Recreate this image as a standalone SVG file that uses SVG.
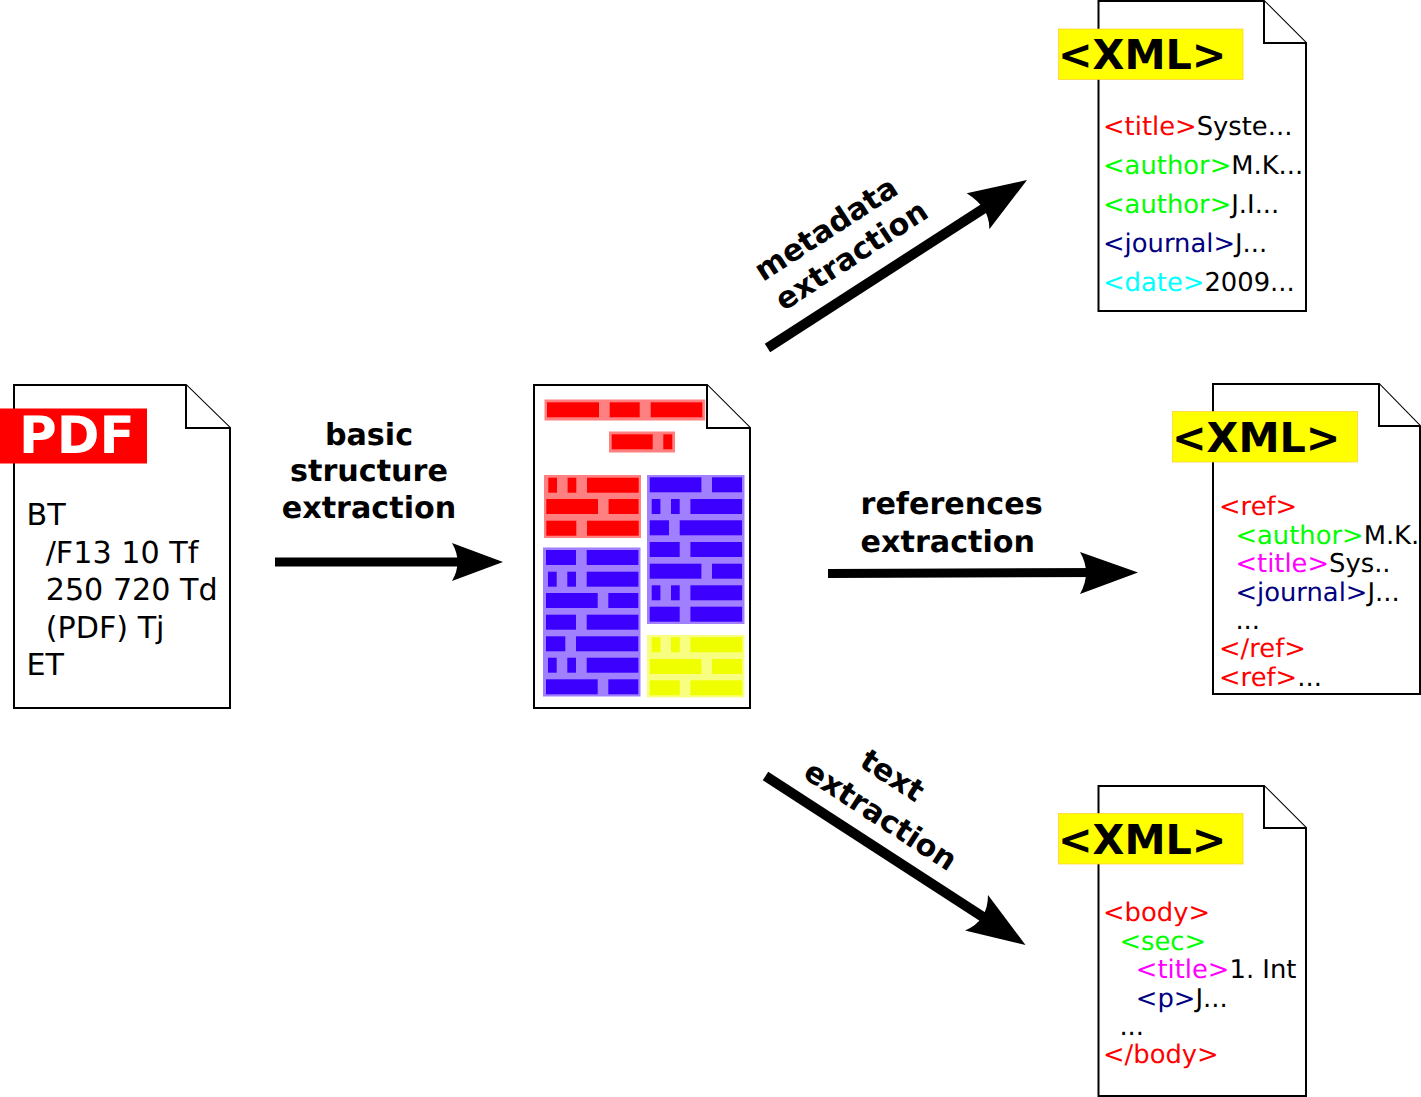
<svg xmlns="http://www.w3.org/2000/svg" width="1421" height="1097" viewBox="0 0 1421 1097">
<style>
text{font-family:"DejaVu Sans",sans-serif;white-space:pre;text-rendering:geometricPrecision}
.page{fill:#fff;stroke:#000;stroke-width:2}
.body{font-size:30.2px;fill:#000}
.x{font-size:25.8px;fill:#000}
.xb{font-size:41.3px;font-weight:bold;fill:#000}
.lb{font-size:30.2px;font-weight:bold;fill:#000}
.r{fill:#f00}.g{fill:#0f0}.n{fill:#000080}.c{fill:#0ff}.m{fill:#f0f}
.hr{fill:#ff8080;stroke:#ff8080}
.hb{fill:#a080ff;stroke:#a080ff}
.hy{fill:#f8ff80;stroke:#f8ff80}
.ir{fill:#f00}.ib{fill:#3c00ff}.iy{fill:#f0ff00}
.tag{fill:#ff0;stroke:#fc3;stroke-width:.7}
.shaft{fill:none;stroke:#000;stroke-width:9}
.shaft2{fill:none;stroke:#000;stroke-width:10}
</style>
<defs>
<g id="rowA"><rect x="0" width="51.7" height="15"/><rect x="62.3" width="30" height="15"/></g>
<g id="rowB"><rect x="2" width="8.7" height="15"/><rect x="21.3" width="8.7" height="15"/><rect x="40.7" width="51.7" height="15"/></g>
<g id="rowC"><rect x="0" width="30" height="15"/><rect x="40.7" width="51.7" height="15"/></g>
<g id="rowD"><rect x="0" width="19.3" height="15"/><rect x="30" width="62.3" height="15"/></g>
</defs>
<g id="connectors">
<path class="shaft" d="M275 562H475"/>
<path d="M452 543L503 562L452 581Q463 562 452 543Z"/>
<path class="shaft" d="M828 573.5L1105 572.5"/>
<path d="M1080 552L1138 572.5L1080 594Q1092 572.5 1080 552Z"/>
<path class="shaft2" d="M767.500 348L1000 198"/>
<path d="M966.700 193.300L1027 180L989.300 229.300Q990 208 966.700 193.300Z"/>
<path class="shaft2" d="M765.500 776L1000 928"/>
<path d="M988 895L1025.500 945L965 930.500Q988 921 988 895Z"/>
</g>
<g id="pdf-source">
<path class="page" d="M14 385H186L230 428V708H14Z"/><path class="page" d="M186 385V428H230" fill="none"/>
<rect x="0" y="408.500" width="147" height="55" fill="#f00"/>
<text x="19" y="453" font-size="51.500" font-weight="bold" fill="#fff">PDF</text>
<text class="body" x="26.500" y="525">BT</text>
<text class="body" x="26.500" y="562.500">  /F13 10 Tf</text>
<text class="body" x="26.500" y="600">  250 720 Td</text>
<text class="body" x="26.500" y="637.500">  (PDF) Tj</text>
<text class="body" x="26.500" y="675">ET</text>
</g>
<g id="label-basic" text-anchor="middle">
<text class="lb" x="369" y="445">basic</text>
<text class="lb" x="369" y="481">structure</text>
<text class="lb" x="369" y="517.500">extraction</text>
</g>
<g id="structure-page">
<path class="page" d="M534 385H707L750 428V708H534Z"/><path class="page" d="M707 385V428H750" fill="none"/>
<rect class="hr" x="545" y="400" width="159.700" height="20"/>
<g class="ir"><rect x="547" y="402.300" width="52" height="15"/><rect x="609.700" y="402.300" width="30" height="15"/><rect x="650.700" y="402.300" width="51.600" height="15"/></g>
<rect class="hr" x="609.500" y="432" width="65" height="20"/>
<g class="ir"><rect x="611.700" y="434.300" width="41" height="15"/><rect x="663.300" y="434.300" width="9" height="15"/></g>
<rect class="hr" x="544.500" y="475.500" width="96" height="62"/>
<g class="ir">
<use href="#rowB" x="546.300" y="477.700"/>
<use href="#rowA" x="546.300" y="499"/>
<use href="#rowC" x="546.300" y="520.700"/>
</g>
<rect class="hb" x="647.500" y="475.500" width="96.500" height="148"/>
<g class="ib">
<use href="#rowA" x="649.700" y="477.300"/>
<use href="#rowB" x="649.700" y="499"/>
<use href="#rowD" x="649.700" y="520.300"/>
<use href="#rowC" x="649.700" y="542"/>
<use href="#rowA" x="649.700" y="563.700"/>
<use href="#rowB" x="649.700" y="585.300"/>
<use href="#rowC" x="649.700" y="606.700"/>
</g>
<rect class="hb" x="543.500" y="548" width="96.500" height="148"/>
<g class="ib">
<use href="#rowC" x="546" y="550"/>
<use href="#rowB" x="546" y="571.700"/>
<use href="#rowA" x="546" y="593"/>
<use href="#rowC" x="546" y="614.700"/>
<use href="#rowD" x="546" y="636.300"/>
<use href="#rowB" x="546" y="657.700"/>
<use href="#rowA" x="546" y="679.300"/>
</g>
<rect class="hy" x="647.500" y="635.500" width="96.500" height="61.500"/>
<g class="iy">
<use href="#rowB" x="649.700" y="637.300"/>
<use href="#rowA" x="649.700" y="659"/>
<use href="#rowC" x="649.700" y="680.300"/>
</g>
</g>
<g id="label-metadata" transform="translate(763 282) rotate(-33)">
<text class="lb" x="0" y="0">metadata</text>
<text class="lb" x="1.500" y="36">extraction</text>
</g>
<g id="label-references">
<text class="lb" x="860.500" y="514">references</text>
<text class="lb" x="860.500" y="552">extraction</text>
</g>
<g id="label-text" transform="translate(858 765.500) rotate(33)">
<text class="lb" x="0" y="0">text</text>
<text class="lb" x="-41" y="40">extraction</text>
</g>
<g id="xml-metadata">
<path class="page" d="M1098.500 1H1264L1306 43V311H1098.500Z"/><path class="page" d="M1264 1V43H1306" fill="none"/>
<rect class="tag" x="1058.500" y="29" width="184.500" height="50.500"/>
<text class="xb" x="1058" y="69">&lt;XML&gt;</text>
<text class="x" x="1103" y="135.300"><tspan class="r">&lt;title&gt;</tspan>Syste...</text>
<text class="x" x="1103" y="174.200"><tspan class="g">&lt;author&gt;</tspan>M.K...</text>
<text class="x" x="1103" y="213"><tspan class="g">&lt;author&gt;</tspan>J.I...</text>
<text class="x" x="1103" y="251.800"><tspan class="n">&lt;journal&gt;</tspan>J...</text>
<text class="x" x="1103" y="290.600"><tspan class="c">&lt;date&gt;</tspan>2009...</text>
</g>
<g id="xml-references">
<path class="page" d="M1213 384H1379L1420 426V694H1213Z"/><path class="page" d="M1379 384V426H1420" fill="none"/>
<rect class="tag" x="1172.500" y="411.500" width="185" height="50.500"/>
<text class="xb" x="1172" y="452">&lt;XML&gt;</text>
<text class="x" x="1219" y="515"><tspan class="r">&lt;ref&gt;</tspan></text>
<text class="x" x="1219" y="543.500">  <tspan class="g">&lt;author&gt;</tspan>M.K.</text>
<text class="x" x="1219" y="572">  <tspan class="m">&lt;title&gt;</tspan>Sys..</text>
<text class="x" x="1219" y="600.500">  <tspan class="n">&lt;journal&gt;</tspan>J...</text>
<text class="x" x="1219" y="629">  ...</text>
<text class="x" x="1219" y="657">  <tspan class="r" dx="-16.400">&lt;/ref&gt;</tspan></text>
<text class="x" x="1219" y="685.500"><tspan class="r">&lt;ref&gt;</tspan>...</text>
</g>
<g id="xml-text">
<path class="page" d="M1098.500 786H1264L1306 828V1096H1098.500Z"/><path class="page" d="M1264 786V828H1306" fill="none"/>
<rect class="tag" x="1058.500" y="813.500" width="184.500" height="50.500"/>
<text class="xb" x="1058" y="854">&lt;XML&gt;</text>
<text class="x" x="1103" y="920.500"><tspan class="r">&lt;body&gt;</tspan></text>
<text class="x" x="1103" y="949.500">  <tspan class="g">&lt;sec&gt;</tspan></text>
<text class="x" x="1103" y="977.500">    <tspan class="m">&lt;title&gt;</tspan>1. Int</text>
<text class="x" x="1103" y="1006.500">    <tspan class="n">&lt;p&gt;</tspan>J...</text>
<text class="x" x="1103" y="1035">  ...</text>
<text class="x" x="1103" y="1063"><tspan class="r">&lt;/body&gt;</tspan></text>
</g>
</svg>
